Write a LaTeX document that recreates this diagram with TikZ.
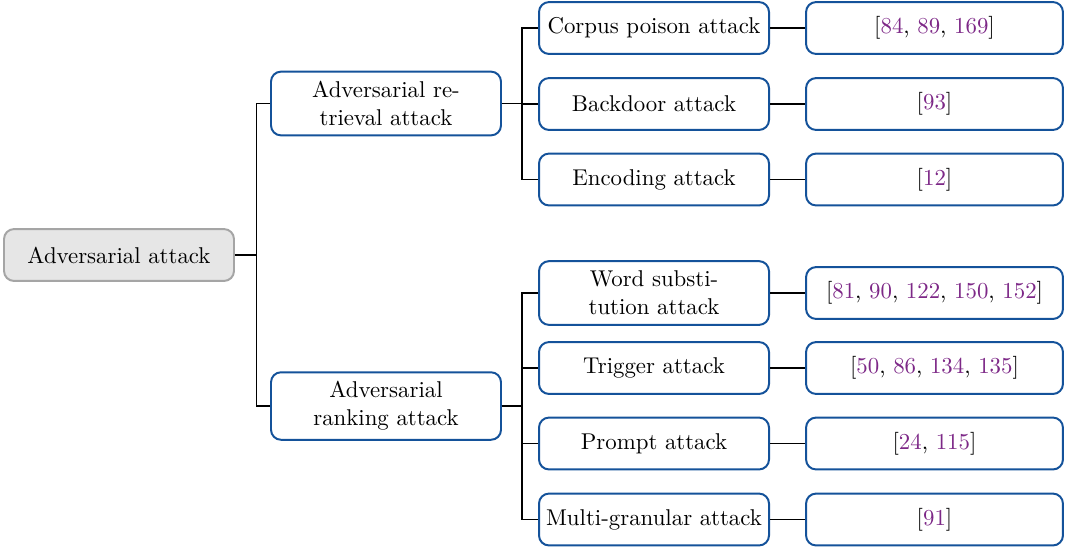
\documentclass[tikz,border=0pt]{standalone}
\definecolor{boxblue}{RGB}{20, 82, 154}
\definecolor{rootgray}{RGB}{230, 230, 230}
\definecolor{rootline}{RGB}{165, 165, 165}
\definecolor{refpurple}{RGB}{125, 40, 135}
\newcommand{\rn}[1]{\textcolor{refpurple}{#1}}
\usetikzlibrary{positioning}

\begin{document}
\begin{tikzpicture}[
                    every node/.style={
                        rounded corners=0.16cm,
                        line width=0.9pt,
                        align=center,
                        inner sep=2pt,
                        font=\fontsize{10.4}{12.8}\selectfont
                    },
                    rootbox/.style={
                        draw=rootline,
                        fill=rootgray,
                        minimum width=3.68cm,
                        minimum height=0.83cm
                    },
                    catbox/.style={
                        draw=boxblue,
                        minimum width=3.68cm,
                        minimum height=0.83cm
                    },
                    refbox/.style={
                        draw=boxblue,
                        minimum width=4.11cm,
                        minimum height=0.83cm
                    },
                    link/.style={
                        draw=black,
                        line width=0.5pt
                    }
                ]
                    \useasboundingbox (0,0) rectangle (17.088,-8.784);

                    % root and first level
                    \node[rootbox] (root) at (1.904,-4.08) {Adversarial attack};
                    \node[catbox, minimum height=1.02cm] (retr) at (6.176,-1.656) {Adversarial re-\\trieval attack};
                    \node[catbox, minimum height=1.08cm] (rank) at (6.176,-6.496) {Adversarial\\ranking attack};

                    % second level
                    \node[catbox] (corpus) at (10.464,-0.448) {Corpus poison attack};
                    \node[catbox] (backdoor) at (10.464,-1.664) {Backdoor attack};
                    \node[catbox] (encoding) at (10.464,-2.872) {Encoding attack};
                    \node[catbox, minimum height=1.02cm] (wordsub) at (10.464,-4.688) {Word substi-\\tution attack};
                    \node[catbox] (trigger) at (10.464,-5.888) {Trigger attack};
                    \node[catbox] (prompt) at (10.464,-7.096) {Prompt attack};
                    \node[catbox] (multi) at (10.464,-8.312) {Multi-granular attack};

                    % references
                    \node[refbox] (corpusref) at (14.952,-0.448) {[\rn{84}, \rn{89}, \rn{169}]};
                    \node[refbox] (backdoorref) at (14.952,-1.664) {[\rn{93}]};
                    \node[refbox] (encodingref) at (14.952,-2.872) {[\rn{12}]};
                    \node[refbox] (wordsubref) at (14.952,-4.688) {[\rn{81}, \rn{90}, \rn{122}, \rn{150}, \rn{152}]};
                    \node[refbox] (triggerref) at (14.952,-5.888) {[\rn{50}, \rn{86}, \rn{134}, \rn{135}]};
                    \node[refbox] (promptref) at (14.952,-7.096) {[\rn{24}, \rn{115}]};
                    \node[refbox] (multiref) at (14.952,-8.312) {[\rn{91}]};

                    % forked edges
                    \foreach \kid in {retr, rank}
                        \draw[link] (root.east) -- ++(0.34,0) |- (\kid.west);
                    \foreach \kid in {corpus, backdoor, encoding}
                        \draw[link] (retr.east) -- ++(0.32,0) |- (\kid.west);
                    \foreach \kid in {wordsub, trigger, prompt, multi}
                        \draw[link] (rank.east) -- ++(0.32,0) |- (\kid.west);
                    \foreach \kid in {corpus, backdoor, encoding, wordsub, trigger, prompt, multi}
                        \draw[link] (\kid.east) -- (\kid ref.west);
                \end{tikzpicture}
\end{document}
